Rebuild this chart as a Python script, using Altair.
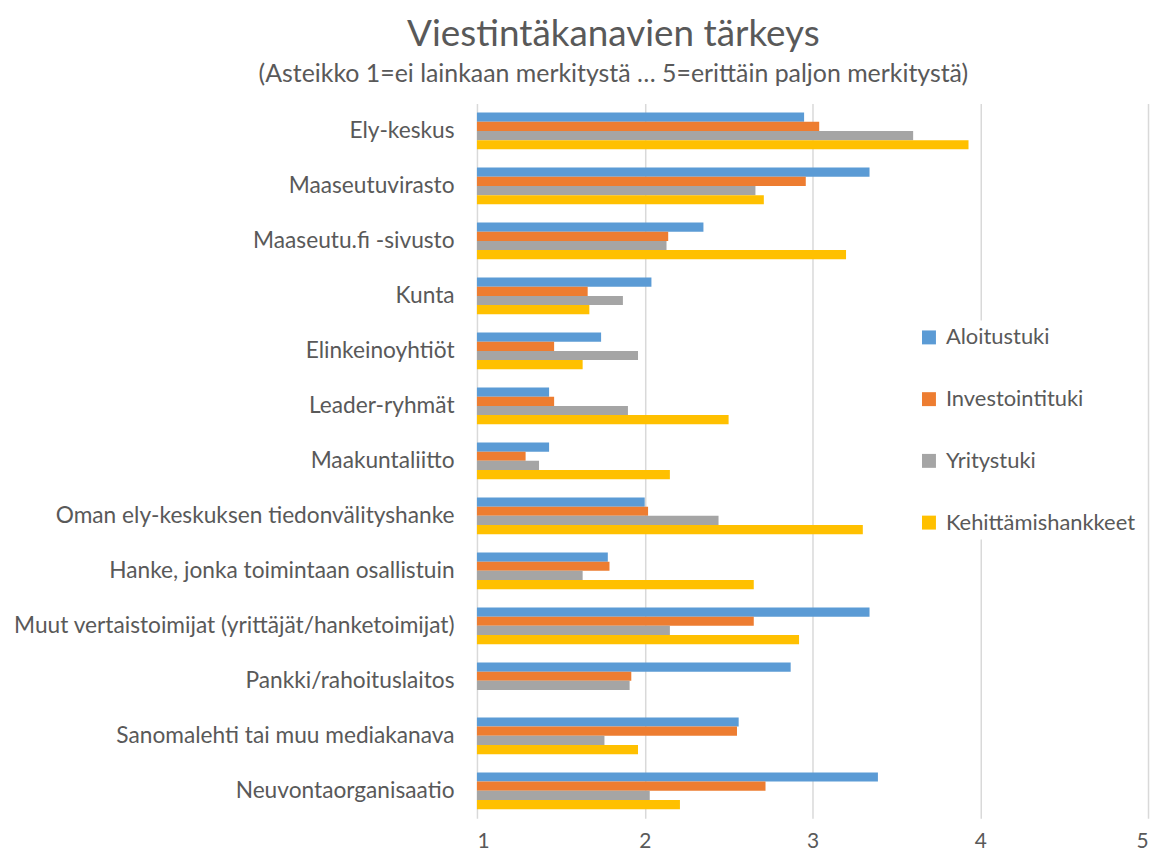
import altair as alt
import pandas as pd

categories = [
    "Ely-keskus", "Maaseutuvirasto", "Maaseutu.fi -sivusto", "Kunta",
    "Elinkeinoyhtiöt", "Leader-ryhmät", "Maakuntaliitto",
    "Oman ely-keskuksen tiedonvälityshanke", "Hanke, jonka toimintaan osallistuin",
    "Muut vertaistoimijat (yrittäjät/hanketoimijat)", "Pankki/rahoituslaitos",
    "Sanomalehti tai muu mediakanava", "Neuvontaorganisaatio",
]
series = ["Aloitustuki", "Investointituki", "Yritystuki", "Kehittämishankkeet"]
colors = ["#5B9BD5", "#ED7D31", "#A5A5A5", "#FFC000"]

aloitustuki = [2.95, 3.34, 2.35, 2.04, 1.74, 1.43, 1.43, 2.00, 1.78, 3.34, 2.87, 2.56, 3.39]
investointituki = [3.04, 2.96, 2.14, 1.66, 1.46, 1.46, 1.29, 2.02, 1.79, 2.65, 1.92, 2.55, 2.72]
yritystuki = [3.60, 2.66, 2.13, 1.87, 1.96, 1.90, 1.37, 2.44, 1.63, 2.15, 1.91, 1.76, 2.03]
kehittamishankkeet = [3.93, 2.71, 3.20, 1.67, 1.63, 2.50, 2.15, 3.30, 2.65, 2.92, None, 1.96, 2.21]

rows = []
for s, vals in zip(series, [aloitustuki, investointituki, yritystuki, kehittamishankkeet]):
    for c, v in zip(categories, vals):
        if v is not None:
            rows.append({"kanava": c, "sarja": s, "arvo": v})
df = pd.DataFrame(rows)

font = "Lato"
textc = "#595959"

chart = alt.Chart(df).mark_bar().encode(
    y=alt.Y("kanava:N", sort=categories, title=None,
            scale=alt.Scale(paddingInner=0.33, paddingOuter=0.165),
            axis=alt.Axis(ticks=False, domain=False, labelFontSize=22.8, labelFont=font,
                          labelColor=textc, labelPadding=23, labelLimit=600)),
    yOffset=alt.YOffset("sarja:N", sort=series),
    x=alt.X("arvo:Q", title=None,
            scale=alt.Scale(domain=[1, 5], zero=False, nice=False),
            axis=alt.Axis(values=[1, 2, 3, 4, 5], ticks=False, domain=False,
                          gridColor="#D9D9D9", gridWidth=1.5, labelFontSize=21,
                          labelFont=font, labelColor=textc, labelPadding=12, format="d")),
    x2=alt.datum(1),
    color=alt.Color("sarja:N", sort=series,
                    scale=alt.Scale(domain=series, range=colors),
                    legend=alt.Legend(title=None, orient="none", legendX=437, legendY=218,
                                      symbolType="square", symbolSize=196, symbolStrokeWidth=0,
                                      labelFontSize=22, labelFont=font, labelColor=textc,
                                      labelLimit=400,
                                      rowPadding=40, fillColor="white", padding=6,
                                      labelOffset=6)),
).properties(
    width=674, height=718,
    autosize=alt.AutoSizeParams(type="none"),
    padding={"left": 471, "top": 94, "right": 5, "bottom": 36},
    title=alt.TitleParams(
        text="Viestintäkanavien tärkeys",
        subtitle="(Asteikko 1=ei lainkaan merkitystä … 5=erittäin paljon merkitystä)",
        font=font, fontSize=37, fontWeight="normal", color=textc,
        subtitleFont=font, subtitleFontSize=25, subtitleColor=textc,
        subtitlePadding=8, offset=16, anchor="middle", frame="group", dx=-200,
    ),
).configure_view(stroke=None)

chart.save("out.html", embed_options={"renderer": "svg", "actions": False})
